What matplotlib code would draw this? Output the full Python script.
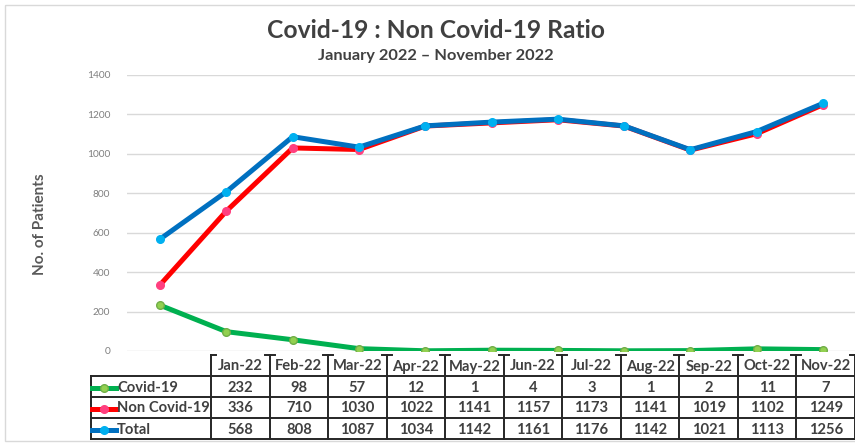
import matplotlib
matplotlib.use("Agg")
import matplotlib.pyplot as plt
from matplotlib.patches import Rectangle
from matplotlib.lines import Line2D
import numpy as np

months = ["Jan-22", "Feb-22", "Mar-22", "Apr-22", "May-22", "Jun-22",
          "Jul-22", "Aug-22", "Sep-22", "Oct-22", "Nov-22"]
covid = [232, 98, 57, 12, 1, 4, 3, 1, 2, 11, 7]
non_covid = [336, 710, 1030, 1022, 1141, 1157, 1173, 1141, 1019, 1102, 1249]
total = [568, 808, 1087, 1034, 1142, 1161, 1176, 1142, 1021, 1113, 1256]
series_names = ["Covid-19", "Non Covid-19", "Total"]
y_ticks = [0, 200, 400, 600, 800, 1000, 1200, 1400]

FONT = ["Lato", "DejaVu Sans"]
TXT = "#404040"

styles = [
    dict(color="#00B050", mfc="#92D050", mec="#70AD47"),
    dict(color="#FF0000", mfc="#FF3F7F", mec="#FF3F7F"),
    dict(color="#0070C0", mfc="#00B0F0", mec="#00B0F0"),
]

W, H = 855, 445
fig = plt.figure(figsize=(W / 100, H / 100), dpi=100)
fig.patch.set_facecolor("white")

def fx(px):
    return px / W

def fy(py):
    return 1 - py / H

# main plot
ax = fig.add_axes([fx(127), fy(351), fx(856) - fx(127), fy(75) - fy(351)])
x = np.arange(len(months))
for vals, st in zip([covid, non_covid, total], styles):
    ax.plot(x, vals, color=st["color"], lw=3.6, marker="o", ms=5.5,
            mfc=st["mfc"], mec=st["mec"], mew=1.0, solid_joinstyle="round",
            solid_capstyle="round", zorder=3)
ax.set_xlim(-0.5, len(months) - 0.5)
ax.set_ylim(0, 1400)
ax.set_yticks(y_ticks)
ax.set_yticklabels([str(v) for v in y_ticks], fontsize=7.3, color="#7F7F7F",
                   family=FONT)
ax.tick_params(axis="y", length=0, pad=12)
ax.set_xticks([])
ax.grid(axis="y", color="#D9D9D9", lw=1.0)
ax.set_axisbelow(True)
for s in ax.spines.values():
    s.set_visible(False)

fig.text(fx(40), fy(224), "No. of Patients", rotation=90, ha="center",
         va="center", fontsize=11, fontweight="bold", color="#595959",
         family=FONT)
fig.text(fx(436), fy(30), "Covid-19 : Non Covid-19 Ratio", ha="center",
         va="center", fontsize=17.7, fontweight="bold", color=TXT, family=FONT)
fig.text(fx(436), fy(56), "January 2022 \u2013 November 2022", ha="center",
         va="center", fontsize=11.8, fontweight="bold", color=TXT, family=FONT)

# overlay axes in pixel coordinates for the data table
tx = fig.add_axes([0, 0, 1, 1])
tx.set_xlim(0, W)
tx.set_ylim(H, 0)
tx.axis("off")
tx.patch.set_alpha(0)

# outer chart frame
tx.add_patch(Rectangle((5, 5), W, 436, fill=False, ec="#D9D9D9", lw=1.0))

bounds = np.linspace(211, 855, len(months) + 1)
label_left = 91
row_y = [355, 376, 397, 418, 439]
lc = "#262626"
lw = 1.4
# horizontal lines
for yy in row_y[1:]:
    tx.plot([label_left, bounds[-1]], [yy, yy], color=lc, lw=lw)
# vertical lines
for b in bounds:
    tx.plot([b, b], [row_y[0], row_y[-1]], color=lc, lw=lw)
    tx.plot([b - 5, b + 5] if b > bounds[0] else [b, b + 5],
            [row_y[0], row_y[0]], color=lc, lw=lw)
tx.plot([label_left, label_left], [row_y[1], row_y[-1]], color=lc, lw=lw)

centers = (bounds[:-1] + bounds[1:]) / 2
FS = 10.6
for c, m in zip(centers, months):
    tx.text(c, (row_y[0] + row_y[1]) / 2 + 1, m, ha="center", va="center",
            fontsize=FS, fontweight="bold", color=TXT, family=FONT)

for r, (name, vals, st) in enumerate(zip(series_names,
                                         [covid, non_covid, total], styles)):
    yc = (row_y[r + 1] + row_y[r + 2]) / 2 + 1
    tx.add_line(Line2D([label_left + 1, label_left + 25], [yc, yc],
                       color=st["color"], lw=3.6))
    tx.add_line(Line2D([label_left + 13], [yc], marker="o", ms=5.5,
                       mfc=st["mfc"], mec=st["mec"], mew=1.0))
    tx.text(label_left + 26, yc, name, ha="left", va="center", fontsize=FS,
            fontweight="bold", color=TXT, family=FONT)
    for c, v in zip(centers, vals):
        tx.text(c, yc, str(v), ha="center", va="center", fontsize=FS,
                fontweight="bold", color=TXT, family=FONT)

fig.savefig("out.png", dpi=100, facecolor="white")
